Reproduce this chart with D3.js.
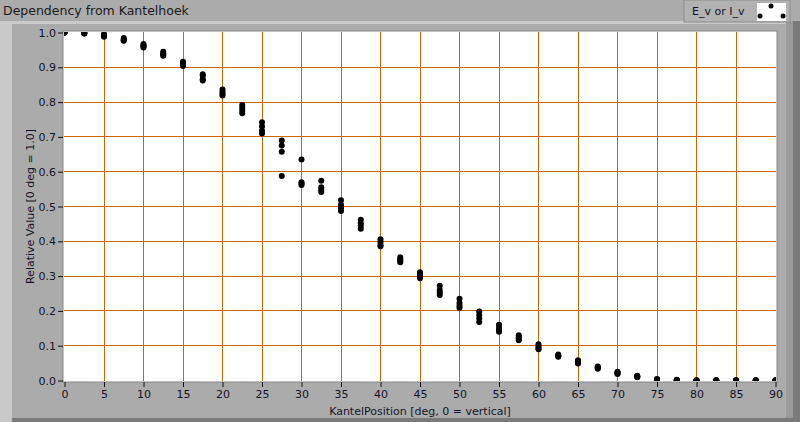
<!DOCTYPE html>
<html>
<head>
<meta charset="utf-8">
<script src="https://cdn.jsdelivr.net/npm/d3@7"></script>
<style>
  body { margin: 0; background: #ababab; }
  svg { display: block; font-family: "DejaVu Sans", sans-serif; }
</style>
</head>
<body>
<svg id="chart" width="800" height="422"></svg>
<script>
// Kantel angles (deg)
const angles = [0, 2.5, 5, 7.5, 10, 12.5, 15, 17.5, 20, 22.5, 25, 27.5, 30, 32.5, 35, 37.5, 40, 42.5, 45,
  47.5, 50, 52.5, 55, 57.5, 60, 62.5, 65, 67.5, 70, 72.5, 75, 77.5, 80, 82.5, 85, 87.5, 90];

// four measurement runs, relative value (0 deg = 1.0)
const run1 = [1.000, 0.999, 0.995, 0.984, 0.967, 0.945, 0.916, 0.880, 0.836, 0.792, 0.742, 0.690, 0.635, 0.574, 0.518, 0.462, 0.406, 0.354, 0.311,
  0.272, 0.235, 0.198, 0.160, 0.130, 0.104, 0.075, 0.058, 0.040, 0.025, 0.014, 0.004, 0.002, 0.001, 0.001, 0.001, 0.001, 0.001];
const run2 = [1.000, 0.998, 0.993, 0.981, 0.963, 0.940, 0.912, 0.876, 0.830, 0.784, 0.730, 0.675, 0.570, 0.555, 0.505, 0.452, 0.398, 0.348, 0.304,
  0.260, 0.223, 0.188, 0.151, 0.124, 0.098, 0.072, 0.055, 0.038, 0.023, 0.012, 0.003, 0.001, 0.000, 0.000, 0.000, 0.000, 0.000];
const run3 = [1.000, 0.998, 0.990, 0.978, 0.960, 0.937, 0.908, 0.866, 0.824, 0.776, 0.718, 0.657, 0.566, 0.548, 0.496, 0.445, 0.390, 0.344, 0.298,
  0.252, 0.215, 0.178, 0.145, 0.120, 0.093, 0.070, 0.052, 0.036, 0.021, 0.010, 0.002, 0.001, 0.000, 0.000, 0.000, 0.000, 0.000];
const run4 = [1.000, 0.997, 0.988, 0.976, 0.957, 0.933, 0.904, 0.862, 0.819, 0.768, 0.710, 0.588, 0.562, 0.542, 0.487, 0.436, 0.386, 0.340, 0.294,
  0.246, 0.209, 0.168, 0.140, 0.116, 0.090, 0.068, 0.049, 0.034, 0.019, 0.009, 0.001, 0.000, 0.000, 0.000, 0.000, 0.000, 0.000];

const xTicks = d3.range(0, 91, 5);
const yTicks = d3.range(0, 1.01, 0.1);

const svg = d3.select('#chart');
const W = 800, H = 422;
const plot = { left: 64, right: 776, top: 32, bottom: 381 };

// panel decorations
svg.append('rect').attr('x', 0).attr('y', 0).attr('width', W).attr('height', H).attr('fill', '#ababab');
svg.append('rect').attr('x', 0).attr('y', 21).attr('width', W).attr('height', 3).attr('fill', '#c9c9c9');
svg.append('rect').attr('x', 0).attr('y', 21).attr('width', 12).attr('height', H - 21).attr('fill', '#c9c9c9');
svg.append('rect').attr('x', 786).attr('y', 21).attr('width', 14).attr('height', H - 21).attr('fill', '#9a9a9a');
svg.append('rect').attr('x', 793).attr('y', 21).attr('width', 7).attr('height', H - 21).attr('fill', '#7a7a7a');
svg.append('rect').attr('x', 12).attr('y', 418).attr('width', 781).attr('height', 4).attr('fill', '#7a7a7a');

// title
svg.append('text')
  .attr('x', 3).attr('y', 15)
  .style('font-size', '12.5px')
  .attr('fill', '#1a1a1a')
  .text('Dependency from Kantelhoek');

// legend
const legend = svg.append('g');
legend.append('rect').attr('x', 684).attr('y', 0).attr('width', 106).attr('height', 22)
  .attr('fill', '#b2b2b2').attr('stroke', '#8c8c8c');
legend.append('text').attr('x', 692).attr('y', 15)
  .style('font-size', '11px').attr('fill', '#141428').text('E_v or I_v');
legend.append('rect').attr('x', 757).attr('y', 3).attr('width', 29).attr('height', 18)
  .attr('fill', '#fff');
[[771, 6], [760, 16], [783, 16]].forEach(p => {
  legend.append('circle').attr('cx', p[0]).attr('cy', p[1]).attr('r', 2.5).attr('fill', '#000');
});

// scales
const x = d3.scaleLinear().domain([0, 90]).range([plot.left, plot.right - 1]);
const y = d3.scaleLinear().domain([0, 1]).range([plot.bottom - 1, plot.top]);

// plot background
svg.append('rect')
  .attr('x', plot.left - 1).attr('y', plot.top - 1)
  .attr('width', plot.right - plot.left + 2).attr('height', plot.bottom - plot.top + 2)
  .attr('fill', '#fff').attr('stroke', '#858585');

svg.append('clipPath').attr('id', 'clip')
  .append('rect')
  .attr('x', plot.left).attr('y', plot.top)
  .attr('width', plot.right - plot.left).attr('height', plot.bottom - plot.top);

const area = svg.append('g').attr('clip-path', 'url(#clip)');

// grid (no lines on the plot edges)
area.selectAll('.vgrid').data(xTicks.slice(1, -1)).enter().append('line')
  .attr('class', 'vgrid')
  .attr('x1', d => Math.round(x(d)) + 0.5).attr('x2', d => Math.round(x(d)) + 0.5)
  .attr('y1', plot.top).attr('y2', plot.bottom)
  .attr('stroke', '#cc6600').attr('stroke-width', 1);
area.selectAll('.hgrid').data(yTicks.slice(1, -1)).enter().append('line')
  .attr('class', 'hgrid')
  .attr('x1', plot.left).attr('x2', plot.right)
  .attr('y1', d => Math.round(y(d)) + 0.5).attr('y2', d => Math.round(y(d)) + 0.5)
  .attr('stroke', '#cc6600').attr('stroke-width', 1);

// points
const runs = [run1, run2, run3, run4];
runs.forEach(run => {
  area.selectAll(null).data(angles.map((a, i) => ({ a: a, v: run[i] }))).enter()
    .append('circle')
    .attr('cx', d => x(d.a) + 0.5)
    .attr('cy', d => y(d.v) + 0.5)
    .attr('r', 3)
    .attr('fill', '#000');
});

// axes
const xAxis = svg.append('g')
  .attr('transform', `translate(0.5, ${plot.bottom + 1})`)
  .call(d3.axisBottom(x).tickValues(xTicks).tickSize(5).tickSizeOuter(0).tickFormat(d3.format('d')));
const yAxis = svg.append('g')
  .attr('transform', `translate(${plot.left - 1}, 0.5)`)
  .call(d3.axisLeft(y).tickValues(yTicks).tickSize(5).tickSizeOuter(0).tickFormat(d3.format('.1f')));

[xAxis, yAxis].forEach(ax => {
  ax.select('.domain').remove();
  ax.selectAll('.tick line').attr('stroke', '#111');
  ax.selectAll('.tick text').attr('fill', '#141428').style('font-size', '11px')
    .style('font-family', '"DejaVu Sans", sans-serif');
});
xAxis.selectAll('.tick text').attr('dy', '0.85em').attr('y', 7);
yAxis.selectAll('.tick text').attr('x', -7);

// axis titles
svg.append('text')
  .attr('x', (plot.left + plot.right) / 2).attr('y', 415)
  .attr('text-anchor', 'middle')
  .style('font-size', '11px').attr('fill', '#141428')
  .text('KantelPosition [deg, 0 = vertical]');

svg.append('text')
  .attr('transform', 'rotate(-90)')
  .attr('x', -(plot.top + plot.bottom) / 2).attr('y', 34)
  .attr('text-anchor', 'middle')
  .style('font-size', '11px').attr('fill', '#141428')
  .text('Relative Value [0 deg = 1.0]');
</script>
</body>
</html>
